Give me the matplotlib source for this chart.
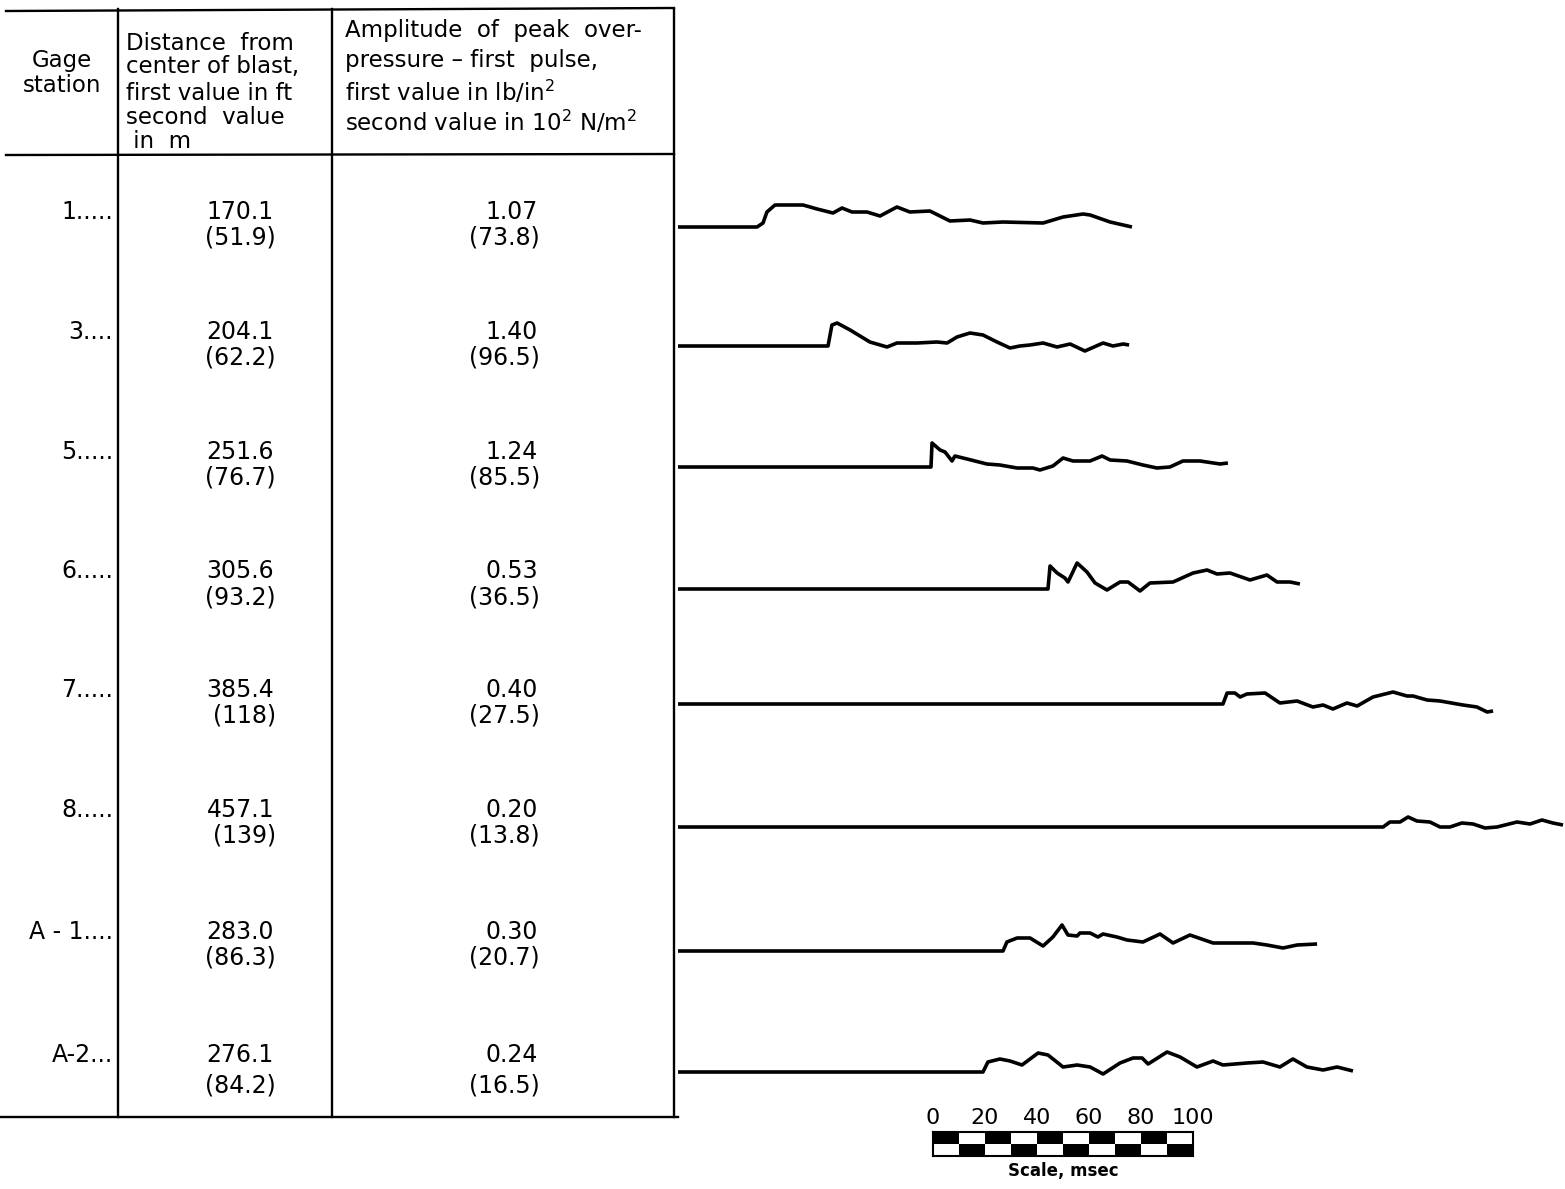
import numpy as np
import matplotlib.pyplot as plt

plt.rcParams['font.family'] = 'DejaVu Sans'

# Table values
stations = ['1.....', '3....', '5.....', '6.....', '7.....', '8.....', 'A - 1....', 'A-2...']
dist_ft = [170.1, 204.1, 251.6, 305.6, 385.4, 457.1, 283.0, 276.1]
dist_m = [51.9, 62.2, 76.7, 93.2, 118, 139, 86.3, 84.2]
press_psi = [1.07, 1.40, 1.24, 0.53, 0.40, 0.20, 0.30, 0.24]
press_nm2 = [73.8, 96.5, 85.5, 36.5, 27.5, 13.8, 20.7, 16.5]

# Pressure traces: time (msec) and deflection (arbitrary units)
t_1 = [0, 30.4, 32.7, 34.2, 37.3, 48.1, 53.5, 59.6, 63.1, 66.9, 72.7, 77.7, 84.2, 89.2,
       96.9, 104.6, 112.3, 117.3, 125.0, 140.4, 148.1, 155.8, 158.5, 166.2, 174.6]
p_1 = [0, 0, 4, 15, 22, 22, 18, 14, 19, 15, 15, 11, 20, 15,
       16, 6, 7, 4, 5, 4, 10, 13, 12, 5, 0]

t_3 = [0, 57.7, 59.2, 61.2, 66.2, 73.8, 80.4, 84.2, 91.9, 99.6, 103.5, 107.3, 112.3,
       117.3, 122.7, 127.7, 131.5, 135.4, 140.4, 145.8, 150.8, 156.5, 163.5, 167.3, 171.2, 173.5]
p_3 = [0, 0, 21, 23, 16, 4, -1, 3, 3, 4, 3, 9, 13,
       11, 4, -2, 0, 1, 3, -1, 2, -5, 3, 0, 2, 1]

t_5 = [0, 97.3, 97.7, 100.8, 102.7, 105.4, 106.5, 111.2, 118.8, 123.8, 130.4, 136.5, 139.2,
       144.2, 148.1, 151.9, 158.5, 163.1, 166.2, 172.7, 178.8, 184.2, 189.2, 194.2, 200.8,
       208.5, 211.5]
p_5 = [0, 0, 24, 17, 15, 6, 11, 8, 3, 2, -1, -1, -3,
       1, 9, 6, 6, 11, 7, 6, 2, -1, 0, 6, 6,
       3, 4]

t_6 = [0, 142.3, 143.1, 145.8, 148.8, 150.0, 153.5, 157.3, 160.4, 165.0, 170.0, 173.1,
       177.7, 181.5, 190.4, 198.1, 203.5, 207.3, 212.3, 220.0, 226.5, 230.4, 235.4, 239.2]
p_6 = [0, 0, 23, 16, 11, 7, 26, 17, 6, -1, 7, 7,
       -2, 6, 7, 16, 19, 15, 16, 9, 14, 7, 7, 5]

t_7 = [0, 209.6, 211.2, 214.2, 216.2, 218.8, 225.8, 231.5, 238.1, 244.2, 248.1, 251.9,
       257.3, 261.2, 267.3, 275.0, 280.4, 282.7, 288.1, 293.1, 301.9, 307.3, 311.2, 313.5]
p_7 = [0, 0, 11, 11, 7, 10, 11, 1, 3, -3, -1, -5,
       1, -2, 7, 12, 8, 8, 4, 3, -1, -3, -8, -7]

t_8 = [0, 271.2, 273.8, 277.7, 280.8, 284.2, 289.2, 293.1, 296.9, 301.5, 305.8, 310.4,
       315.0, 322.7, 327.7, 332.3, 336.5, 340.4]
p_8 = [0, 0, 5, 5, 10, 6, 5, 0, 0, 4, 3, -1,
       0, 5, 3, 7, 4, 2]

t_a1 = [0, 125.0, 126.5, 130.4, 135.4, 140.4, 144.2, 147.7, 150.0, 153.5, 154.6, 158.5,
        161.5, 163.5, 168.8, 172.7, 178.8, 185.4, 190.4, 196.9, 205.8, 213.5, 221.2, 226.5,
        232.7, 238.1, 245.8]
p_a1 = [0, 0, 9, 13, 13, 5, 14, 26, 16, 15, 18, 18,
        14, 17, 14, 11, 9, 17, 8, 16, 8, 8, 8, 6,
        3, 6, 7]

t_a2 = [0, 117.3, 119.2, 123.8, 127.7, 132.3, 135.4, 138.5, 142.3, 148.1, 153.5, 158.5,
        163.5, 170.0, 175.0, 178.5, 180.8, 188.1, 193.1, 199.6, 205.8, 209.6, 218.8, 225.0,
        231.5, 236.5, 241.9, 248.1, 253.5, 259.6]
p_a2 = [0, 0, 10, 13, 11, 7, 13, 19, 17, 5, 7, 5,
        -2, 9, 14, 14, 8, 20, 15, 5, 11, 7, 9, 10,
        5, 13, 5, 2, 5, 1]

traces_t = [t_1, t_3, t_5, t_6, t_7, t_8, t_a1, t_a2]
traces_p = [p_1, p_3, p_5, p_6, p_7, p_8, p_a1, p_a2]

scale_ticks = [0, 20, 40, 60, 80, 100]

# Layout (pixels)
W, H = 1565, 1189
row_y1 = [212, 332, 452, 571, 690, 810, 932, 1055]
row_y2 = [238, 357, 477, 597, 716, 836, 958, 1085]
trace_base = [227, 346, 467, 589, 704, 827, 951, 1072]
trace_x0 = 678
px_per_ms = 2.6
fs = 17
fs_head = 16.5

fig = plt.figure(figsize=(W / 100, H / 100), dpi=100)
ax = fig.add_axes([0, 0, 1, 1])
ax.set_xlim(0, W)
ax.set_ylim(H, 0)
ax.axis('off')

# table rules
lw_t = 1.7
ax.plot([6, 674], [11, 8], color='black', lw=lw_t)
ax.plot([6, 674], [155, 154], color='black', lw=lw_t)
ax.plot([0, 678], [1117, 1117], color='black', lw=lw_t)
for xv in [118, 332, 674]:
    ax.plot([xv, xv], [9, 1117], color='black', lw=lw_t)

# header
ax.text(62, 60, 'Gage', ha='center', va='center', fontsize=fs_head)
ax.text(62, 85, 'station', ha='center', va='center', fontsize=fs_head)
col2_head = ['Distance  from', 'center of blast,', 'first value in ft', 'second  value', ' in  m']
for s, yv in zip(col2_head, [44, 67, 93, 117, 142]):
    ax.text(126, yv, s, ha='left', va='center', fontsize=fs_head)
col3_head = ['Amplitude  of  peak  over-', 'pressure \u2013 first  pulse,',
             'first value in lb/in$^2$', 'second value in 10$^2$ N/m$^2$']
for s, yv in zip(col3_head, [31, 60, 92, 122]):
    ax.text(345, yv, s, ha='left', va='center', fontsize=fs_head)

# rows
for i in range(len(stations)):
    ax.text(113, row_y1[i], stations[i], ha='right', va='center', fontsize=fs)
    ax.text(274, row_y1[i], '{:.1f}'.format(dist_ft[i]), ha='right', va='center', fontsize=fs)
    ax.text(276, row_y2[i], '({:g})'.format(dist_m[i]), ha='right', va='center', fontsize=fs)
    ax.text(538, row_y1[i], '{:.2f}'.format(press_psi[i]), ha='right', va='center', fontsize=fs)
    ax.text(540, row_y2[i], '({:g})'.format(press_nm2[i]), ha='right', va='center', fontsize=fs)

# traces
t_max = (W - trace_x0) / px_per_ms
for i in range(len(traces_t)):
    yb = trace_base[i]
    tax = fig.add_axes([trace_x0 / W, 1 - (yb + 35) / H, (W - trace_x0) / W, 70 / H])
    tax.set_xlim(0, t_max)
    tax.set_ylim(-35, 35)
    tax.axis('off')
    tax.plot(traces_t[i], traces_p[i], color='black', lw=2.6,
             solid_joinstyle='round', solid_capstyle='butt')

# scale bar
sax = fig.add_axes([933 / W, 1 - 1156 / H, 260 / W, 24 / H])
sax.set_xlim(0, 100)
sax.set_ylim(0, 2)
cells = np.arange(0, 100, 10)
top_col = ['black' if k % 2 == 0 else 'white' for k in range(len(cells))]
bot_col = ['white' if k % 2 == 0 else 'black' for k in range(len(cells))]
sax.bar(cells, 1, width=10, bottom=1, align='edge', color=top_col, edgecolor='none')
sax.bar(cells, 1, width=10, bottom=0, align='edge', color=bot_col, edgecolor='none')
for sp in sax.spines.values():
    sp.set_linewidth(1.5)
sax.set_yticks([])
sax.xaxis.tick_top()
sax.set_xticks(scale_ticks)
sax.set_xticklabels([str(v) for v in scale_ticks])
sax.tick_params(axis='x', length=0, pad=3, labelsize=16)
sax.xaxis.set_label_position('bottom')
sax.set_xlabel('Scale, msec', fontsize=12, fontweight='bold', labelpad=4)

fig.savefig('out.png', dpi=100)
